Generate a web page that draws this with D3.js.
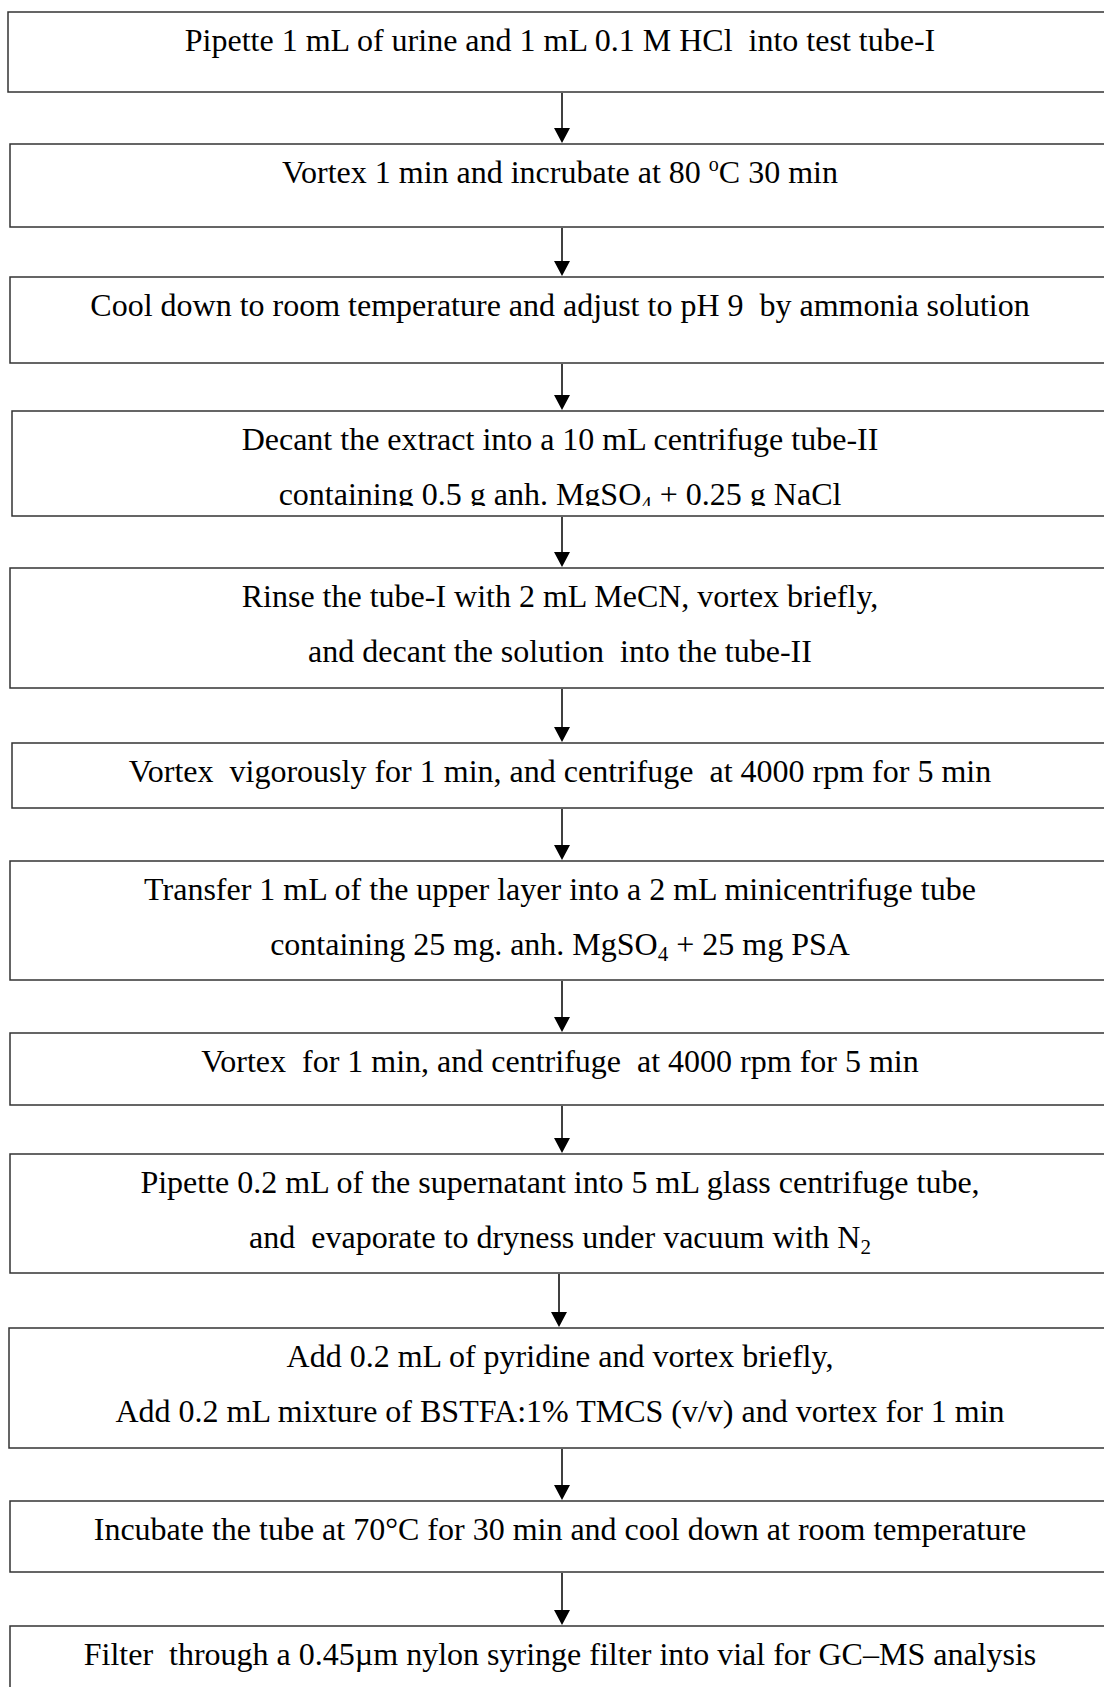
<!DOCTYPE html>
<html>
<head>
<meta charset="utf-8">
<script src="https://cdn.jsdelivr.net/npm/d3@7"></script>
<style>
  body { margin: 0; background: #fff; }
  svg { display: block; }
  .step-text {
    font-family: "Liberation Serif", "Times New Roman", serif;
    font-size: 32px;
    fill: #000;
    white-space: pre;
  }
</style>
</head>
<body>
<svg id="chart" width="1104" height="1687"></svg>
<script>
//  Steps of the procedure, one entry per box (each entry holds the lines of that box)
//  _{x} is a subscript, ^{x} a superscript
const stepLines = [
    ['Pipette 1 mL of urine and 1 mL 0.1 M HCl  into test tube-I'],
    ['Vortex 1 min and incrubate at 80 ^{o}C 30 min'],
    ['Cool down to room temperature and adjust to pH 9  by ammonia solution'],
    ['Decant the extract into a 10 mL centrifuge tube-II',
     'containing 0.5 g anh. MgSO_{4} + 0.25 g NaCl'],
    ['Rinse the tube-I with 2 mL MeCN, vortex briefly,',
     'and decant the solution  into the tube-II'],
    ['Vortex  vigorously for 1 min, and centrifuge  at 4000 rpm for 5 min'],
    ['Transfer 1 mL of the upper layer into a 2 mL minicentrifuge tube',
     'containing 25 mg. anh. MgSO_{4} + 25 mg PSA'],
    ['Vortex  for 1 min, and centrifuge  at 4000 rpm for 5 min'],
    ['Pipette 0.2 mL of the supernatant into 5 mL glass centrifuge tube,',
     'and  evaporate to dryness under vacuum with N_{2}'],
    ['Add 0.2 mL of pyridine and vortex briefly,',
     'Add 0.2 mL mixture of BSTFA:1% TMCS (v/v) and vortex for 1 min'],
    ['Incubate the tube at 70°C for 30 min and cool down at room temperature'],
    ['Filter  through a 0.45µm nylon syringe filter into vial for GC\u2013MS analysis']
];

//  Layout of the boxes (page pixels)
const boxTop    = [12, 144, 277, 411, 568, 743, 861, 1033, 1154, 1328, 1501, 1626];
const boxBottom = [92, 227, 363, 516, 688, 808, 980, 1105, 1273, 1448, 1572, 1720];
const boxLeft   = [8, 10, 10, 12, 10, 12, 10, 10, 10, 9, 10, 10];
const arrowX    = [562, 562, 562, 562, 562, 562, 562, 562, 559, 562, 562];



function drawFlow() {

    const svg = d3.select('#chart');

    const boxRight = 1112;
    const textX = 560;
    const firstBaseline = 39;
    const lineGap = 55;
    const bottomInset = 10;     //  text box inner margin, text below it is cut off
    const headLen = 15;
    const headHalf = 8;

    const steps = stepLines.map((lines, i) => ({
        lines,
        top: boxTop[i],
        bottom: boxBottom[i],
        left: boxLeft[i]
    }));

    const y = d3.scaleIdentity().domain([0, 1687]);

    //======================================
    //  Clip paths (text stays inside its box)
    //======================================
    const defs = svg.append('defs');
    defs.selectAll('clipPath')
        .data(steps)
        .enter()
        .append('clipPath')
        .attr('id', (d, i) => `clip-${i}`)
        .append('rect')
        .attr('x', d => d.left)
        .attr('y', d => y(d.top))
        .attr('width', d => boxRight - d.left)
        .attr('height', d => y(d.bottom) - y(d.top) - bottomInset);

    //======================================
    //  Boxes
    //======================================
    const boxes = svg.append('g').attr('id', 'boxes');

    const box = boxes.selectAll('g')
        .data(steps)
        .enter()
        .append('g');

    box.append('rect')
        .attr('x', d => d.left)
        .attr('y', d => y(d.top))
        .attr('width', d => boxRight - d.left)
        .attr('height', d => y(d.bottom) - y(d.top))
        .attr('fill', '#fff')
        .attr('stroke', '#333')
        .attr('stroke-width', 1.5);

    //  Text lines, with sub / superscripts split out into tspans
    box.each(function(d, i) {
        const g = d3.select(this).append('g')
            .attr('clip-path', `url(#clip-${i})`);

        d.lines.forEach((line, k) => {
            const text = g.append('text')
                .attr('class', 'step-text')
                .attr('text-anchor', 'middle')
                .attr('x', textX)
                .attr('y', y(d.top) + firstBaseline + k * lineGap);

            const parts = line.split(/(_\{[^}]*\}|\^\{[^}]*\})/).filter(p => p !== '');
            let shift = 0;
            parts.forEach(part => {
                let dy = 0, size = null, str = part;
                if (part.startsWith('_{')) {
                    str = part.slice(2, -1); dy = 6; size = 21;
                } else if (part.startsWith('^{')) {
                    str = part.slice(2, -1); dy = -12; size = 20;
                }
                const t = text.append('tspan')
                    .attr('dy', dy - shift)
                    .text(str);
                if (size) t.style('font-size', `${size}px`);
                shift = dy;
            });
        });
    });

    //======================================
    //  Arrows between boxes
    //======================================
    const links = d3.range(steps.length - 1).map(i => ({
        x: arrowX[i],
        from: steps[i].bottom,
        to: steps[i + 1].top - 1
    }));

    const arrows = svg.append('g').attr('id', 'arrows');

    arrows.selectAll('line')
        .data(links)
        .enter()
        .append('line')
        .attr('x1', d => d.x)
        .attr('x2', d => d.x)
        .attr('y1', d => y(d.from) + 1)
        .attr('y2', d => y(d.to) - headLen + 1)
        .attr('stroke', '#000')
        .attr('stroke-width', 1.5);

    arrows.selectAll('path')
        .data(links)
        .enter()
        .append('path')
        .attr('d', d => {
            const tip = y(d.to);
            return `M${d.x - headHalf},${tip - headLen} L${d.x + headHalf},${tip - headLen} L${d.x},${tip} Z`;
        })
        .attr('fill', '#000');
}

drawFlow();
</script>
</body>
</html>
